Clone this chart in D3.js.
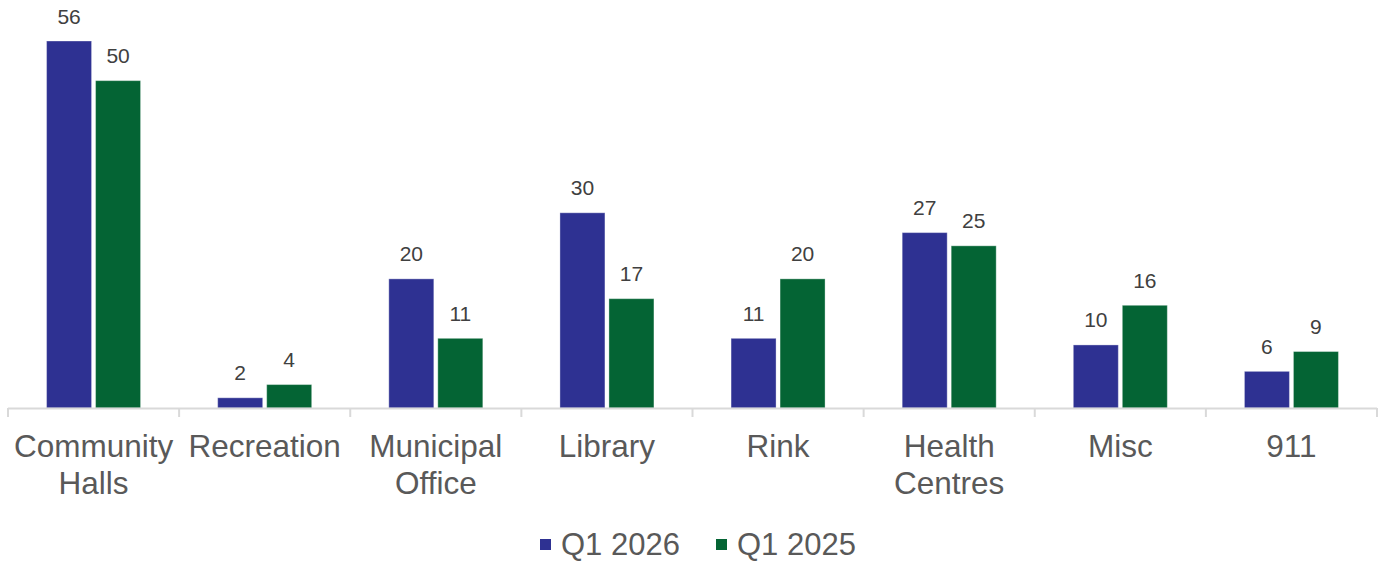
<!DOCTYPE html>
<html>
<head>
<meta charset="utf-8">
<script src="https://cdn.jsdelivr.net/npm/d3@7"></script>
<style>
  body { margin: 0; background: #fff; }
  svg { display: block; font-family: "Liberation Sans", Arial, sans-serif; }
</style>
</head>
<body>
<div id="chart"></div>
<script>
// chart data
var categories = ["Community Halls", "Recreation", "Municipal Office", "Library", "Rink", "Health Centres", "Misc", "911"];
var q1_2026 = [56, 2, 20, 30, 11, 27, 10, 6];
var q1_2025 = [50, 4, 11, 17, 20, 25, 16, 9];
var seriesNames = ["Q1 2026", "Q1 2025"];
var seriesColors = ["#2e3192", "#046434"];

// wrapped tick labels as in the original
var tickLines = {
  "Community Halls": ["Community", "Halls"],
  "Municipal Office": ["Municipal", "Office"],
  "Health Centres": ["Health", "Centres"]
};

var width = 1383, height = 561;
var left = 8, right = 1377, baseline = 408;

var svg = d3.select("#chart").append("svg")
  .attr("width", width)
  .attr("height", height);

var x = d3.scaleBand()
  .domain(categories)
  .range([left, right])
  .paddingInner(0)
  .paddingOuter(0);

// zero sits a little below the drawn axis line
var y = d3.scaleLinear()
  .domain([0, 56])
  .range([411, 41]);

var barW = 45, gap = 4;

var rows = categories.map(function(c, i) {
  return { cat: c, vals: [q1_2026[i], q1_2025[i]] };
});

var groups = svg.selectAll(".grp")
  .data(rows)
  .enter().append("g")
  .attr("class", "grp")
  .attr("transform", function(d) { return "translate(" + (x(d.cat) + x.bandwidth() / 2) + ",0)"; });

groups.selectAll("rect")
  .data(function(d) { return d.vals; })
  .enter().append("rect")
  .attr("x", function(d, i) { return i == 0 ? -gap / 2 - barW : gap / 2; })
  .attr("y", function(d) { return y(d); })
  .attr("width", barW)
  .attr("height", function(d) { return baseline - y(d); })
  .style("fill", function(d, i) { return seriesColors[i]; })
  .style("stroke", "#ffffff")
  .style("stroke-opacity", 0.35)
  .style("stroke-width", 1);

groups.selectAll("text.val")
  .data(function(d) { return d.vals; })
  .enter().append("text")
  .attr("class", "val")
  .attr("x", function(d, i) { return i == 0 ? -gap / 2 - barW / 2 : gap / 2 + barW / 2; })
  .attr("y", function(d) { return y(d) - 17.5; })
  .attr("text-anchor", "middle")
  .style("font-size", "21px")
  .style("fill", "#404040")
  .text(function(d) { return d; });

// x axis
var axis = svg.append("g")
  .attr("transform", "translate(0," + baseline + ")")
  .call(d3.axisBottom(x).tickSize(0).tickFormat(""));
axis.select(".domain").remove();

axis.append("line")
  .attr("x1", left).attr("x2", right)
  .attr("y1", 0.5).attr("y2", 0.5)
  .style("stroke", "#d9d9d9")
  .style("stroke-width", 2);

var bounds = categories.map(function(c) { return x(c); }).concat([right]);
axis.selectAll(".sep")
  .data(bounds)
  .enter().append("line")
  .attr("class", "sep")
  .attr("x1", function(d) { return d; })
  .attr("x2", function(d) { return d; })
  .attr("y1", 0)
  .attr("y2", 9)
  .style("stroke", "#d9d9d9")
  .style("stroke-width", 2);

// category labels
var labels = svg.selectAll(".cat")
  .data(categories)
  .enter().append("text")
  .attr("class", "cat")
  .attr("text-anchor", "middle")
  .style("font-size", "31.5px")
  .style("fill", "#595959");

labels.each(function(c) {
  var lines = tickLines[c] || [c];
  var t = d3.select(this);
  lines.forEach(function(l, i) {
    t.append("tspan")
      .attr("x", x(c) + x.bandwidth() / 2)
      .attr("y", 457 + i * 37)
      .text(l);
  });
});

// legend
var legend = svg.append("g");
var legX = [540, 716];
seriesNames.forEach(function(s, i) {
  legend.append("rect")
    .attr("x", legX[i])
    .attr("y", 539)
    .attr("width", 11)
    .attr("height", 11)
    .style("fill", seriesColors[i]);
  legend.append("text")
    .attr("x", legX[i] + 21)
    .attr("y", 555)
    .style("font-size", "31px")
    .style("fill", "#595959")
    .text(s);
});
</script>
</body>
</html>
